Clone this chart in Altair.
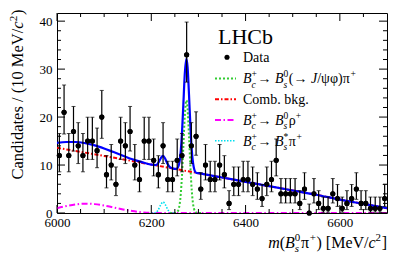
import altair as alt
import pandas as pd
import numpy as np

FONT = "Liberation Serif, Times New Roman, serif"

# ---------------- data ----------------
bin_lo = 6000
bin_width = 10
counts = [12, 21, 12, 17, 14, 12, 15, 15, 13, 20,
          8, 10, 6, 15, 14, 17, 10, 7, 15, 15,
          11, 8, 14, 7, 7, 11, 12, 33, 14, 16,
          5, 10, 7, 7, 10, 8, 2, 6, 6, 7,
          7, 6, 5, 3, 6, 7, 11, 4, 4, 4,
          4, 2, 5, 0, 4, 2, 1, 1, 4, 3,
          1, 2, 3, 5, 2, 2, 1, 1, 1, 3]

total_mass = [6000, 6020, 6040, 6060, 6080, 6100, 6120, 6140, 6160, 6180,
              6200, 6210, 6215, 6220, 6225, 6230, 6235, 6240, 6245, 6250,
              6255, 6260, 6265, 6268, 6271, 6274.5, 6277, 6280, 6283,
              6286, 6290, 6295, 6300, 6350, 6400, 6450, 6500, 6550, 6600,
              6650, 6700]
total_vals = [14.6, 14.8, 14.8, 14.55, 14.1, 13.45, 12.7, 11.95, 11.2, 10.6,
              10.1, 10.0, 10.5, 11.4, 11.9, 11.2, 10.15, 9.5, 9.3, 9.2,
              9.3, 10.7, 16.5, 22.6, 28.9, 32.2, 30.4, 24.7, 18.1,
              13.0, 9.6, 8.4, 8.3, 7.4, 6.5, 5.6, 4.7, 3.8, 2.8,
              1.9, 1.0]

sig_mass = [6240, 6250, 6255, 6260, 6265, 6268, 6271, 6274.5, 6277, 6280,
            6283, 6286, 6290, 6295, 6300, 6310]
sig_vals = [0, 0, 0.2, 1.7, 7.6, 13.8, 20.1, 23.5, 21.7, 16.0,
            9.5, 4.5, 1.1, 0.1, 0, 0]

comb_mass = [6000, 6050, 6100, 6150, 6200, 6250, 6300, 6350, 6400, 6450,
             6500, 6550, 6600, 6650, 6700]
comb_vals = [13.6, 12.75, 11.9, 11.0, 10.1, 9.2, 8.3, 7.4, 6.5, 5.6,
             4.7, 3.8, 2.8, 1.9, 1.0]

rho_mass = [6000, 6020, 6040, 6060, 6080, 6100, 6120, 6140, 6160, 6180,
            6200, 6220, 6700]
rho_vals = [1.0, 1.45, 1.8, 1.95, 1.85, 1.55, 1.15, 0.75, 0.4, 0.15,
            0.02, 0, 0]

bsstar_mass = [6200, 6205, 6210, 6215, 6220, 6225, 6230, 6235, 6240, 6245, 6250]
bsstar_vals = [0, 0, 0.1, 0.7, 1.7, 2.3, 1.7, 0.7, 0.1, 0, 0]

x_tick_labels = [6000, 6200, 6400, 6600]
x_minor = [6050, 6100, 6150, 6250, 6300, 6350, 6450, 6500, 6550, 6650]
y_tick_labels = [0, 10, 20, 30, 40]
y_minor = [2, 4, 6, 8, 12, 14, 16, 18, 22, 24, 26, 28, 32, 34, 36, 38]

# ---------------- derived table ----------------
n = np.array(counts, dtype=float)
centers = [bin_lo + bin_width * (i + 0.5) for i in range(len(counts))]
nn = np.maximum(n, 1.0)
hi = n + np.sqrt(n + 0.75) + 1.0
lo = np.where(n > 0, n * (1 - 1 / (9 * nn) - 1 / (3 * np.sqrt(nn))) ** 3, 0.0)
df = pd.DataFrame({"m": centers, "n": n, "lo": lo, "hi": hi})

W, H = 330, 200
xs = alt.Scale(domain=[6000, 6700], nice=False, zero=False)
ys = alt.Scale(domain=[0, 41.7], nice=False, zero=False)

XAX = alt.Axis(values=x_tick_labels, format="d", labelFont=FONT, labelFontSize=13,
               labelColor="black", labelPadding=3, ticks=False, tickSize=0,
               domain=False, grid=False, title=None, labelFlush=False,
               labelOverlap=False)
YAX = alt.Axis(values=y_tick_labels, format="d", labelFont=FONT, labelFontSize=13,
               labelColor="black", labelPadding=5, ticks=False, tickSize=0,
               domain=False, grid=False, title=None, labelOverlap=False)


def X(field):
    return alt.X(field, scale=xs, axis=XAX)


def Y(field):
    return alt.Y(field, scale=ys, axis=YAX)


layers = []


def curve(mass, vals, color, width, dash=None):
    d = pd.DataFrame({"m": mass, "v": vals})
    kw = dict(color=color, strokeWidth=width, interpolate="monotone", clip=True)
    if dash is not None:
        kw["strokeDash"] = dash
    return alt.Chart(d).mark_line(**kw).encode(x=X("m:Q"), y=Y("v:Q"))


C_SIG = "#33cc33"
C_COMB = "#ff0000"
C_RHO = "#ff00ff"
C_STAR = "#00e0f0"
C_TOT = "#0000ff"
DASH_SIG = [2, 2]
DASH_COMB = [4, 2, 1.5, 2]
DASH_RHO = [6, 2.5, 1.5, 2.5]
DASH_STAR = [1.5, 1.5]

# data points with error bars (first layer carries the axes)
base = alt.Chart(df)
layers.append(base.mark_circle(size=26, color="black", opacity=1).encode(x=X("m:Q"), y=Y("n:Q")))

layers.append(curve(rho_mass, rho_vals, C_RHO, 2, DASH_RHO))
layers.append(curve(bsstar_mass, bsstar_vals, C_STAR, 1.6, DASH_STAR))
layers.append(curve(sig_mass, sig_vals, C_SIG, 2, DASH_SIG))
layers.append(curve(comb_mass, comb_vals, C_COMB, 2, DASH_COMB))
layers.append(curve(total_mass, total_vals, C_TOT, 2.2))

layers.append(base.mark_rule(color="black", strokeWidth=1.2).encode(
    x=X("m:Q"), y=Y("lo:Q"), y2="hi:Q"))
layers.append(base.mark_tick(orient="horizontal", size=4, thickness=1, color="black").encode(
    x=X("m:Q"), y=Y("lo:Q")))
layers.append(base.mark_tick(orient="horizontal", size=4, thickness=1, color="black").encode(
    x=X("m:Q"), y=Y("hi:Q")))
layers.append(base.mark_circle(size=26, color="black", opacity=1).encode(x=X("m:Q"), y=Y("n:Q")))


# inward ticks on all four sides
def xticks(vals, length):
    d = pd.DataFrame({"m": vals})
    b = alt.Chart(d).mark_rule(color="black", strokeWidth=1)
    return [b.encode(x=X("m:Q"), y=alt.value(H), y2=alt.value(H - length)),
            b.encode(x=X("m:Q"), y=alt.value(0), y2=alt.value(length))]


def yticks(vals, length):
    d = pd.DataFrame({"n": vals})
    b = alt.Chart(d).mark_rule(color="black", strokeWidth=1)
    return [b.encode(y=Y("n:Q"), x=alt.value(0), x2=alt.value(length)),
            b.encode(y=Y("n:Q"), x=alt.value(W), x2=alt.value(W - length))]


layers += xticks(x_tick_labels, 8) + xticks(x_minor, 4)
layers += yticks(y_tick_labels, 8) + yticks(y_minor, 4)

# ---------------- rich text helpers ----------------
W_N = {' ': 0.25, '(': 0.333, ')': 0.333, '[': 0.333, ']': 0.333, '/': 0.278,
       'M': 0.889, 'e': 0.444, 'V': 0.722, '0': 0.5, '1': 0.5, '2': 0.5,
       '+': 0.564, '→': 1.0, 'π': 0.55, 'ρ': 0.5, 'φ': 0.52, 'ψ': 0.69, '*': 0.5,
       'C': 0.667, 'a': 0.444, 'n': 0.5, 'd': 0.5, 'i': 0.278, 't': 0.278, 's': 0.389}
W_I = {'m': 0.722, 'B': 0.611, 'c': 0.444, 's': 0.389, 'J': 0.444}


def tw(s, italic):
    tab = W_I if italic else W_N
    return sum(tab.get(ch, 0.5) for ch in s)


ONE = alt.Data(values=[{"a": 1}])


def txt(s, x, y, size, italic=False, align="left", baseline="alphabetic", angle=0):
    kw = dict(text=s, align=align, baseline=baseline, font=FONT, fontSize=size,
              fontStyle="italic" if italic else "normal", color="black")
    if angle:
        kw["angle"] = angle
    return alt.Chart(ONE).mark_text(**kw).encode(x=alt.value(x), y=alt.value(y))


def rich(pieces, x0, y0, size, align="left", vertical=False, raise_=0.42):
    items = []
    adv = 0.0
    ss = size * 0.68
    for p in pieces:
        k = p[0]
        if k in ("n", "i"):
            items.append((p[1], adv, 0.0, size, k == "i"))
            adv += tw(p[1], k == "i") * size
        elif k == "s":
            items.append((p[1], adv, 0.3 * size, ss, True))
            items.append((p[2], adv, -raise_ * size, ss, False))
            adv += max(tw(p[1], True), tw(p[2], False)) * ss + 0.04 * size
        elif k == "u":
            items.append((p[1], adv, -raise_ * size, ss, p[1].isalpha()))
            adv += tw(p[1], False) * ss + 0.04 * size
    shift = -adv if align == "right" else 0.0
    out = []
    for s, dx, dy, sz, it in items:
        if vertical:
            out.append(txt(s, x0 + dy, y0 - (dx + shift), sz, it, angle=270))
        else:
            out.append(txt(s, x0 + dx + shift, y0 + dy, sz, it))
    return out


# axis titles
layers += rich([("i", "m"), ("n", "("), ("i", "B"), ("s", "s", "0"), ("n", "π"), ("u", "+"),
                ("n", ") [MeV/"), ("i", "c"), ("u", "2"), ("n", "]")],
               W, 234.5, 16, align="right")
layers += rich([("n", "Candidates / (10 MeV/"), ("i", "c"), ("u", "2"), ("n", ")")],
               -34.5, -3.4, 16.5, align="right", vertical=True, raise_=0.34)

# legend
layers.append(txt("LHCb", 161, 30.5, 22))
rows = [44.3, 65.6, 86.3, 107.0, 127.8]
LX0, LX1, TX = 158, 179, 186
FS = 14
layers.append(alt.Chart(ONE).mark_circle(size=26, color="black", opacity=1).encode(
    x=alt.value(170), y=alt.value(rows[0])))
layers.append(txt("Data", TX, rows[0] + 4.7, FS))
for r, col, dash, wdt in [(rows[1], C_SIG, DASH_SIG, 2), (rows[2], C_COMB, DASH_COMB, 2),
                          (rows[3], C_RHO, DASH_RHO, 2), (rows[4], C_STAR, DASH_STAR, 1.6)]:
    layers.append(alt.Chart(ONE).mark_rule(color=col, strokeDash=dash, strokeWidth=wdt).encode(
        x=alt.value(LX0), x2=alt.value(LX1), y=alt.value(r)))
layers += rich([("i", "B"), ("s", "c", "+"), ("n", "→ "), ("i", "B"), ("s", "s", "0"),
                ("n", "(→ "), ("i", "J"), ("n", "/ψφ)π"), ("u", "+")], TX, rows[1] + 4.7, FS)
layers.append(txt("Comb. bkg.", TX, rows[2] + 4.7, FS))
layers += rich([("i", "B"), ("s", "c", "+"), ("n", "→ "), ("i", "B"), ("s", "s", "0"),
                ("n", "ρ"), ("u", "+")], TX, rows[3] + 4.7, FS)
layers += rich([("i", "B"), ("s", "c", "+"), ("n", "→ "), ("i", "B"), ("s", "s", "*"),
                ("n", "π"), ("u", "+")], TX, rows[4] + 4.7, FS)

chart = alt.layer(*layers).properties(
    width=W, height=H,
    autosize=alt.AutoSizeParams(type="none"),
    padding={"left": 49, "top": 5, "right": 12, "bottom": 40},
    background="white",
).configure_view(stroke="black", strokeWidth=1)

chart.save("out.html", embed_options={"renderer": "svg", "actions": False})
